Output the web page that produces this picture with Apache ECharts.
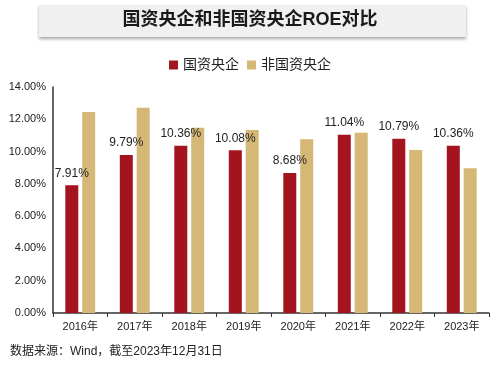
<!DOCTYPE html>
<html><head><meta charset="utf-8">
<script src="https://cdn.jsdelivr.net/npm/echarts@6/dist/echarts.min.js"></script>
<style>html,body{margin:0;padding:0;background:#fff}#c{width:500px;height:366px}</style>
</head><body><div id="c"></div>
<script>
var categories = ['2016年','2017年','2018年','2019年','2020年','2021年','2022年','2023年'];
var soe = [7.91, 9.79, 10.36, 10.08, 8.68, 11.04, 10.79, 10.36];
var nonSoe = [12.45, 12.72, 11.48, 11.34, 10.76, 11.17, 10.10, 8.97];
var yTicks = [0, 2, 4, 6, 8, 10, 12, 14];
var font = '"Liberation Sans", "Noto Sans CJK SC", sans-serif';
var chart = echarts.init(document.getElementById('c'), null, {renderer: 'canvas'});
chart.setOption({
  animation: false,
  textStyle: {fontFamily: font},
  graphic: [
    {type: 'rect', shape: {x: 39, y: 5, width: 427, height: 32},
     style: {fill: '#f0f0f0', shadowColor: 'rgba(0,0,0,0.35)', shadowBlur: 3, shadowOffsetY: 2}},
    {type: 'text', left: 'center', top: 11,
     style: {text: '国资央企和非国资央企ROE对比', font: 'bold 18px ' + font, fill: '#1a1a1a'}},
    {type: 'text', left: 10, top: 346,
     style: {text: '数据来源：Wind，截至2023年12月31日', font: '12px ' + font, fill: '#222'}}
  ],
  legend: {
    top: 53, left: 'center', itemWidth: 9, itemHeight: 9, itemGap: 8, icon: 'rect',
    textStyle: {fontSize: 14, color: '#222', fontFamily: font},
    data: ['国资央企', '非国资央企']
  },
  grid: {left: 53, right: 11, top: 87, bottom: 53},
  xAxis: {
    type: 'category', data: categories,
    axisLine: {lineStyle: {color: '#333', width: 1.5}},
    axisTick: {show: true, length: 4, lineStyle: {color: '#333'}},
    axisLabel: {fontSize: 11, color: '#222', margin: 8, fontFamily: font}
  },
  yAxis: {
    type: 'value', min: 0, max: 14, interval: 2,
    axisLine: {show: true, lineStyle: {color: '#333', width: 1.5}},
    axisTick: {show: false},
    splitLine: {show: false},
    axisLabel: {fontSize: 11, color: '#222', margin: 7, fontFamily: font,
      formatter: function (v) { return v.toFixed(2) + '%'; }}
  },
  series: [
    {name: '国资央企', type: 'bar', data: soe, barWidth: 13, barGap: '30%',
     itemStyle: {color: '#A3141F'},
     label: {show: true, position: 'top', distance: 6, fontSize: 12, color: '#222', fontFamily: font,
       formatter: function (p) { return p.value.toFixed(2) + '%'; }}},
    {name: '非国资央企', type: 'bar', data: nonSoe, barWidth: 13,
     itemStyle: {color: '#D5B776'}}
  ]
});
</script></body></html>
